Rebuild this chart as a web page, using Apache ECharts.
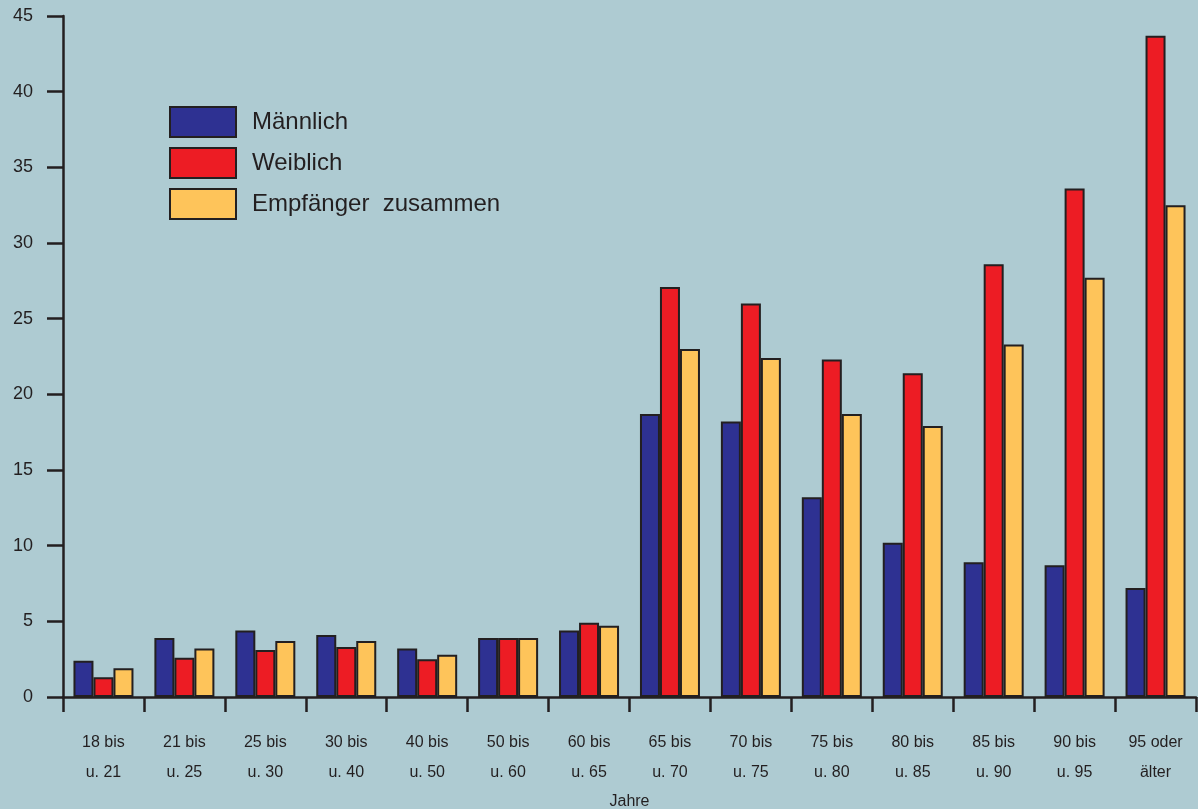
<!DOCTYPE html>
<html><head><meta charset="utf-8">
<script src="https://cdn.jsdelivr.net/npm/echarts@6/dist/echarts.min.js"></script>
<style>html,body{margin:0;padding:0;background:#aecbd2;overflow:hidden}#c{width:1198px;height:809px}</style>
</head><body><div id="c"></div>
<script>
const categories = ['18 bis\nu. 21','21 bis\nu. 25','25 bis\nu. 30','30 bis\nu. 40','40 bis\nu. 50','50 bis\nu. 60','60 bis\nu. 65','65 bis\nu. 70','70 bis\nu. 75','75 bis\nu. 80','80 bis\nu. 85','85 bis\nu. 90','90 bis\nu. 95','95 oder\nälter'];
const maennlich = [2.4,3.9,4.4,4.1,3.2,3.9,4.4,18.7,18.2,13.2,10.2,8.9,8.7,7.2];
const weiblich = [1.3,2.6,3.1,3.3,2.5,3.9,4.9,27.1,26.0,22.3,21.4,28.6,33.6,43.7];
const zusammen = [1.9,3.2,3.7,3.7,2.8,3.9,4.7,23.0,22.4,18.7,17.9,23.3,27.7,32.5];
const seriesNames = ['Männlich','Weiblich','Empfänger  zusammen'];
const colors = ['#2e3192','#ed1c24','#fec45a'];
const ink = '#231f20';
const font = 'Liberation Sans, Arial, sans-serif';
const chart = echarts.init(document.getElementById('c'));
function mk(name, data, color){
  return {name, type:'bar', data, barWidth:20, barGap:'0%',
    itemStyle:{color, borderColor:ink, borderWidth:2}};
}
chart.setOption({
  backgroundColor:'#aecbd2',
  animation:false,
  grid:{left:63,right:2,top:16,bottom:112,containLabel:false,outerBoundsMode:'none'},
  legend:{orient:'vertical',left:164,top:101,itemWidth:66,itemHeight:30,itemGap:9,
    icon:'rect',
    textStyle:{fontFamily:font,fontSize:24,color:ink,padding:[0,0,0,11],lineHeight:30},
    data:seriesNames.map((n,i)=>({name:n,itemStyle:{color:colors[i],borderColor:ink,borderWidth:2}}))},
  xAxis:{type:'category',data:categories,
    name:'Jahre',nameLocation:'middle',nameGap:97,
    nameTextStyle:{fontFamily:font,fontSize:16,color:ink},
    axisLine:{lineStyle:{color:ink,width:2.5}},
    axisTick:{show:true,length:15,lineStyle:{color:ink,width:2.5}},
    axisLabel:{fontFamily:font,fontSize:16,color:ink,margin:31,lineHeight:30,interval:0}},
  yAxis:{type:'value',min:0,max:45,interval:5,
    axisLine:{show:true,lineStyle:{color:ink,width:2.5}},
    axisTick:{show:true,length:16,lineStyle:{color:ink,width:2.5}},
    splitLine:{show:false},
    axisLabel:{fontFamily:font,fontSize:18,color:ink,margin:30}},
  series:[mk(seriesNames[0],maennlich,colors[0]),mk(seriesNames[1],weiblich,colors[1]),mk(seriesNames[2],zusammen,colors[2])]
});
</script></body></html>
